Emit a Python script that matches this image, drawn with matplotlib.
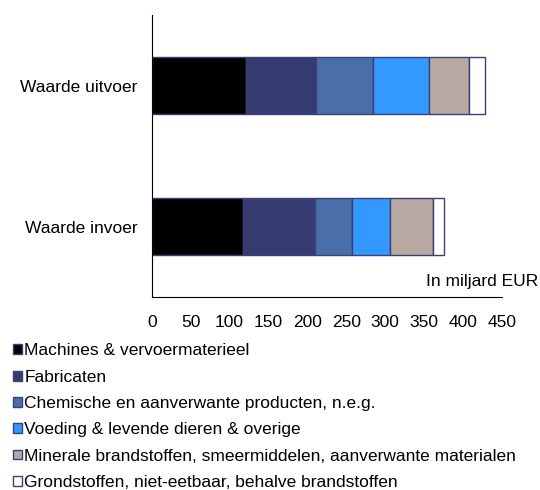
import matplotlib
matplotlib.use("Agg")
import matplotlib.pyplot as plt
from matplotlib.patches import Patch

plt.rcParams["font.family"] = ["Liberation Sans", "DejaVu Sans"]
plt.rcParams["font.size"] = 12.5

categories = ["Waarde invoer", "Waarde uitvoer"]
groups = [
    "Machines & vervoermaterieel",
    "Fabricaten",
    "Chemische en aanverwante producten, n.e.g.",
    "Voeding & levende dieren & overige",
    "Minerale brandstoffen, smeermiddelen, aanverwante materialen",
    "Grondstoffen, niet-eetbaar, behalve brandstoffen",
]
# miljard EUR, [invoer, uitvoer]
values = [
    [118, 121],
    [91.5, 90],
    [48.5, 74],
    [49, 72],
    [55, 51],
    [13.5, 21],
]
colors = ["#000000", "#363c72", "#4a6fa8", "#3399ff", "#b8aaa3", "#ffffff"]
ticks = [0, 50, 100, 150, 200, 250, 300, 350, 400, 450]

fig = plt.figure(figsize=(5.4, 4.9), dpi=100)
ax = fig.add_axes([0.281, 0.394, 0.648, 0.575])

left = [0, 0]
for vals, col in zip(values, colors):
    ax.barh([0, 1], vals, left=left, height=0.4, color=col,
            edgecolor="#3c3f78", linewidth=1)
    left = [l + v for l, v in zip(left, vals)]

ax.set_xlim(0, 450)
ax.set_ylim(-0.5, 1.5)
ax.set_yticks([0, 1])
ax.set_yticklabels(categories)
ax.set_xticks(ticks)
ax.tick_params(axis="both", length=0)
ax.tick_params(axis="x", pad=13)
ax.tick_params(axis="y", pad=10)
for side in ["top", "right"]:
    ax.spines[side].set_visible(False)

fig.text(0.996, 0.41, "In miljard EUR", ha="right", va="bottom")

handles = [Patch(facecolor=c, edgecolor="#3c3f78", linewidth=1) for c in colors]
fig.legend(handles, groups, loc="upper left", bbox_to_anchor=(0.024, 0.299),
           frameon=False, handlelength=0.5, handleheight=0.5,
           handletextpad=0.15, labelspacing=0.65, borderpad=0, borderaxespad=0)

fig.savefig("out.png", dpi=100)
